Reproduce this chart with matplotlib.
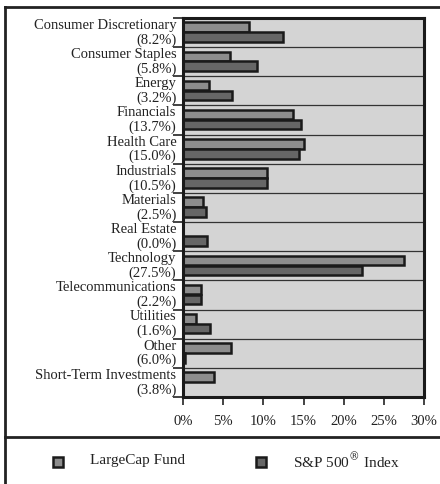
import numpy as np
import matplotlib
matplotlib.use('Agg')
import matplotlib.pyplot as plt
from matplotlib.lines import Line2D
from matplotlib.patches import Rectangle

plt.rcParams['font.family'] = ['Liberation Serif', 'DejaVu Serif']
plt.rcParams['mathtext.fontset'] = 'custom'
plt.rcParams['mathtext.rm'] = 'DejaVu Serif'

# sector names, fund weight (shown in label) and index weight
sectors = ['Consumer Discretionary', 'Consumer Staples', 'Energy', 'Financials',
           'Health Care', 'Industrials', 'Materials', 'Real Estate', 'Technology',
           'Telecommunications', 'Utilities', 'Other', 'Short-Term Investments']
fund = [8.2, 5.8, 3.2, 13.7, 15.0, 10.5, 2.5, 0.0, 27.5, 2.2, 1.6, 6.0, 3.8]
index = [12.4, 9.2, 6.1, 14.7, 14.5, 10.4, 2.9, 3.0, 22.3, 2.2, 3.4, 0.2, 0.0]
xticks = [0, 5, 10, 15, 20, 25, 30]

fund_col = '#8d8d8d'
index_col = '#666666'
edge = '#1a1a1a'

fig = plt.figure(figsize=(4.4, 4.85), dpi=100)
ax = fig.add_axes([183/440, 1-398/485, 241/440, 379/485])
ax.set_facecolor('#d4d4d4')

n = len(sectors)
ys = np.arange(n)
ax.barh(ys - 0.185, fund, height=0.33, color=fund_col, edgecolor=edge, linewidth=1.8)
ax.barh(ys + 0.155, index, height=0.33, color=index_col, edgecolor=edge, linewidth=1.8)

ax.set_ylim(n - 0.5, -0.5)
ax.set_xlim(0, 30)

# separators between categories
for k in range(1, n):
    ax.axhline(k - 0.5, color='#333333', linewidth=0.9, zorder=1)

ax.set_yticks(np.arange(n + 1) - 0.5)
ax.set_yticklabels([])
ax.tick_params(axis='y', length=7, width=1.2, color='#222222', direction='out')
ax.set_xticks(xticks)
ax.set_xticklabels(['{}%'.format(t) for t in xticks], fontsize=10.5, color='#222222')
ax.tick_params(axis='x', length=6, width=1.2, color='#222222', pad=6)

for s in ax.spines.values():
    s.set_linewidth(2.2)
    s.set_color('#1a1a1a')

tr = ax.get_yaxis_transform()
for i, name in enumerate(sectors):
    ax.text(-0.028, i - 0.5 + 0.22, name, transform=tr, ha='right', va='center',
            fontsize=10.5, color='#222222')
    ax.text(-0.028, i - 0.5 + 0.72, '({:.1f}%)'.format(fund[i]), transform=tr,
            ha='right', va='center', fontsize=10.5, color='#222222')

# outer frame and legend divider
fig.add_artist(Line2D([5/440, 1], [1-8/485, 1-8/485], color='#222222', linewidth=2))
fig.add_artist(Line2D([5/440, 5/440], [0, 1-8/485], color='#222222', linewidth=2))
fig.add_artist(Line2D([5/440, 1], [1-438/485, 1-438/485], color='#222222', linewidth=2))

# legend
for x0, col, label in [(53, fund_col, 'LargeCap Fund'),
                       (255.5, index_col, 'S&P 500$^{\\mathrm{®}}$ Index')]:
    fig.add_artist(Rectangle((x0/440, 1-468/485), 10/440, 10/485, facecolor=col,
                             edgecolor=edge, linewidth=1.8, transform=fig.transFigure))
    fig.text((x0 + 37)/440, 1-461/485, label, ha='left', va='center', fontsize=11,
             color='#222222')

fig.savefig('out.png', dpi=100)
